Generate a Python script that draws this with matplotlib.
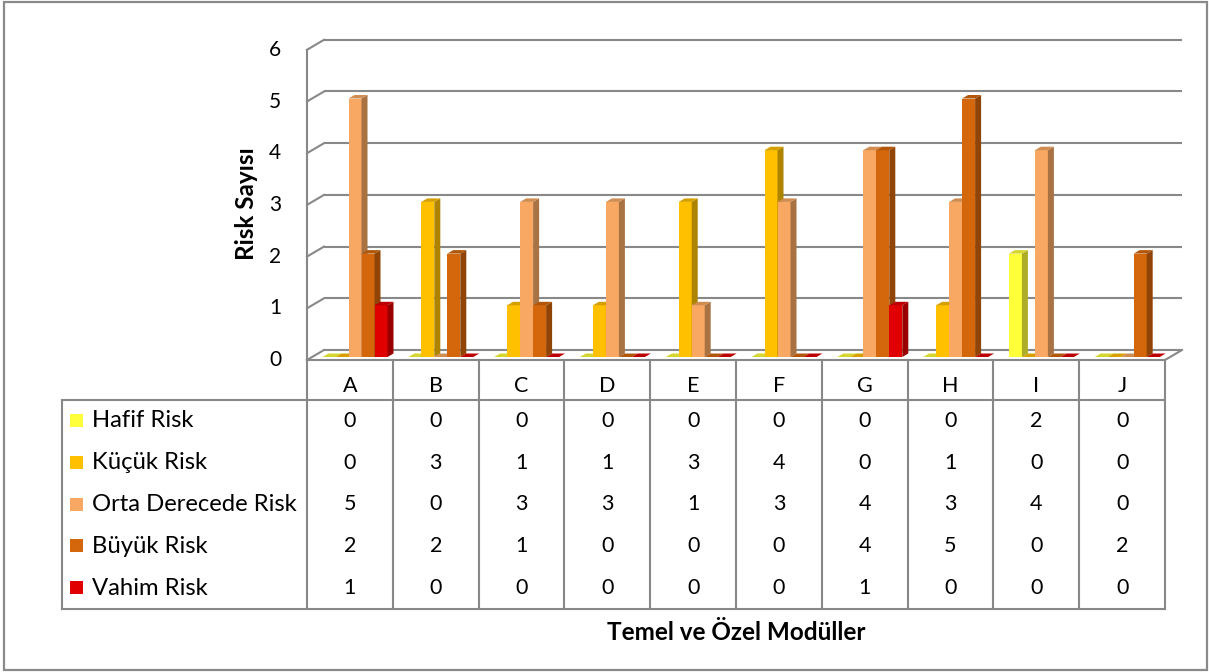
import matplotlib
matplotlib.use("Agg")
import matplotlib.pyplot as plt
from matplotlib.patches import Polygon, Rectangle
from matplotlib.colors import to_rgb

plt.rcParams['font.family'] = ['Lato', 'DejaVu Sans']

# ---- data ----
categories = ["A", "B", "C", "D", "E", "F", "G", "H", "I", "J"]
series_names = ["Hafif Risk", "Küçük Risk", "Orta Derecede Risk", "Büyük Risk", "Vahim Risk"]
hafif = [0, 0, 0, 0, 0, 0, 0, 0, 2, 0]
kucuk = [0, 3, 1, 1, 3, 4, 0, 1, 0, 0]
orta = [5, 0, 3, 3, 1, 3, 4, 3, 4, 0]
buyuk = [2, 2, 1, 0, 0, 0, 4, 5, 0, 2]
vahim = [1, 0, 0, 0, 0, 0, 1, 0, 0, 0]
y_ticks = [0, 1, 2, 3, 4, 5, 6]
x_title = "Temel ve Özel Modüller"
y_title = "Risk Sayısı"

series_values = [hafif, kucuk, orta, buyuk, vahim]
front_colors = ["#FFFF3A", "#FFC000", "#F8A862", "#D4660B", "#E00000"]

# ---- layout (pixels) ----
W, H = 1209, 672
PX_X0 = 307.0       # left edge of the category area
CAT_W = 85.8        # width of one category / table column
PX_Y0 = 357.0       # bar baseline
UNIT = 51.7         # pixels per value unit
GRID = "#888888"

fig = plt.figure(figsize=(W / 100, H / 100), dpi=100)
fig.patch.set_facecolor("white")

# base layer in pixel coordinates: frame, data table, titles
base = fig.add_axes([0, 0, 1, 1])
base.set_xlim(0, W)
base.set_ylim(H, 0)
base.axis("off")

# chart layer: x in category units, y in value units
ax = fig.add_axes([0, 0, 1, 1])
ax.set_xlim(-PX_X0 / CAT_W, (W - PX_X0) / CAT_W)
ax.set_ylim((PX_Y0 - H) / UNIT, PX_Y0 / UNIT)
ax.patch.set_alpha(0)
ax.axis("off")

n_cat = len(categories)
FRONT_DY = -3 / UNIT          # front edge of the floor / side wall
BACK_DX = 17 / CAT_W          # depth offset of the back wall
BACK_DY = 10 / UNIT
BAR_OFF = 15.5 / CAT_W
BAR_W = 13 / CAT_W
DX = 6 / CAT_W
DY = 3.5 / UNIT

# outer frame
base.add_patch(Rectangle((4, 2), 1203, 668, fill=False, edgecolor="#8a8a8a", lw=1.6))

# back wall gridlines, side wall diagonals and left axis
for v in y_ticks:
    yf = v + FRONT_DY
    yb = yf + BACK_DY
    ax.plot([BACK_DX, n_cat + BACK_DX], [yb, yb], color=GRID, lw=1.5, zorder=1,
            solid_capstyle="butt")
    ax.plot([0, BACK_DX], [yf, yb], color=GRID, lw=1.5, zorder=1)
    ax.text(-26 / CAT_W, yf, str(v), ha="right", va="center", fontsize=15, color="black")
ax.plot([0, 0], [FRONT_DY, y_ticks[-1] + FRONT_DY], color=GRID, lw=1.5, zorder=1)

# floor outline
ax.plot([0, n_cat], [FRONT_DY, FRONT_DY], color=GRID, lw=1.5, zorder=2)
ax.plot([n_cat, n_cat + BACK_DX], [FRONT_DY, FRONT_DY + BACK_DY], color=GRID, lw=1.5, zorder=2)


def shade(c, f):
    r, g, b = to_rgb(c)
    return (r * f, g * f, b * f)


# 3D columns: front face with ax.bar, side and top faces as polygons
for j, (vals, col) in enumerate(zip(series_values, front_colors)):
    z = 10 + j
    xs = [i + BAR_OFF + j * BAR_W for i in range(n_cat)]
    ax.bar(xs, vals, width=BAR_W, align="edge", color=col, linewidth=0, zorder=z)
    for x, v in zip(xs, vals):
        side = [(x + BAR_W, 0), (x + BAR_W + DX, DY), (x + BAR_W + DX, v + DY), (x + BAR_W, v)]
        top = [(x, v), (x + DX, v + DY), (x + BAR_W + DX, v + DY), (x + BAR_W, v)]
        if v > 0:
            ax.add_patch(Polygon(side, closed=True, facecolor=shade(col, 0.68),
                                 edgecolor="none", zorder=z))
        ax.add_patch(Polygon(top, closed=True, facecolor=shade(col, 0.84),
                             edgecolor="none", zorder=z))

# ---- data table ----
TBL_TOP = 360
HDR_BOT = 400
TBL_BOT = 609
LEG_LEFT = 62
ROW_H = (TBL_BOT - HDR_BOT) / len(series_names)
col_x = [PX_X0 + CAT_W * i for i in range(n_cat + 1)]
tl = dict(color=GRID, lw=1.5, solid_capstyle="projecting")
for x in col_x:
    base.plot([x, x], [TBL_TOP, TBL_BOT], **tl)
base.plot([LEG_LEFT, col_x[-1]], [HDR_BOT, HDR_BOT], **tl)
base.plot([LEG_LEFT, col_x[-1]], [TBL_BOT, TBL_BOT], **tl)
base.plot([LEG_LEFT, LEG_LEFT], [HDR_BOT, TBL_BOT], **tl)

for i, c in enumerate(categories):
    base.text(col_x[i] + CAT_W / 2, 386, c, ha="center", va="center", fontsize=15.5)

for r, (name, vals, col) in enumerate(zip(series_names, series_values, front_colors)):
    yc = HDR_BOT + ROW_H * (r + 0.5)
    base.add_patch(Rectangle((70, yc - 7), 13, 13, facecolor=col, edgecolor="none"))
    base.text(92, yc, name, ha="left", va="center", fontsize=17.2)
    for i, v in enumerate(vals):
        base.text(col_x[i] + CAT_W / 2, yc, str(v), ha="center", va="center", fontsize=15.5)

# axis titles
base.text(736, 632, x_title, ha="center", va="center", fontsize=17.5, fontweight="bold")
base.text(246, 204, y_title, ha="center", va="center", fontsize=17.5, fontweight="bold",
          rotation=90)

fig.savefig("out.png", dpi=100, facecolor="white")
